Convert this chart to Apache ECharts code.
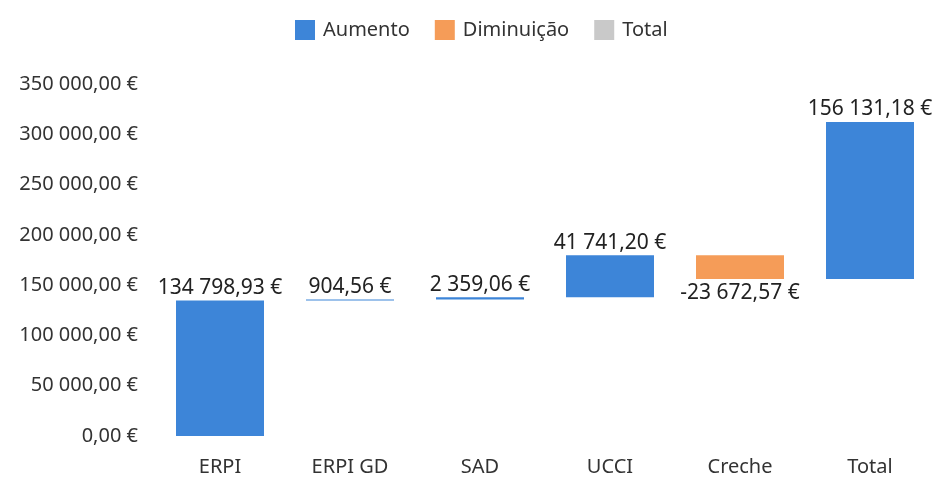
<!DOCTYPE html>
<html lang="pt">
<head>
    <meta charset="UTF-8">
    <title>Waterfall</title>
    <style>
        html, body { margin: 0; padding: 0; background: #fff; }
        #chart { width: 939px; height: 479px; }
    </style>
</head>
<body>
<div id="chart"></div>
<script src="https://cdn.jsdelivr.net/npm/echarts@6/dist/echarts.min.js"></script>
<script>
    var categories = ['ERPI', 'ERPI GD', 'SAD', 'UCCI', 'Creche', 'Total'];
    var changes = [134798.93, 904.56, 2359.06, 41741.20, -23672.57];
    var totalValue = 156131.18;
    var legendNames = ['Aumento', 'Diminuição', 'Total'];

    var euro = function (v) {
        var neg = v < 0;
        var parts = Math.abs(v).toFixed(2).split('.');
        var intPart = parts[0].replace(/\B(?=(\d{3})+(?!\d))/g, ' ');
        return (neg ? '-' : '') + intPart + ',' + parts[1] + ' €';
    };

    // build the stacked series: invisible base + up / down / total
    var base = [], up = [], down = [], tot = [];
    var running = 0;
    changes.forEach(function (c) {
        if (c >= 0) {
            base.push(running);
            up.push({value: c, raw: c});
            down.push('-');
            running += c;
        } else {
            running += c;
            base.push(running);
            up.push('-');
            down.push({value: -c, raw: c});
        }
        tot.push('-');
    });
    // total bar sits on top of the final running level, as in the source
    base.push(running);
    up.push('-');
    down.push('-');
    tot.push({value: totalValue, raw: totalValue});

    var labelFont = {
        fontFamily: 'Noto Sans',
        fontSize: 21,
        color: '#222'
    };

    var option = {
        animation: false,
        textStyle: {fontFamily: 'Noto Sans'},
        legend: {
            top: 15,
            left: 290,
            icon: 'rect',
            itemWidth: 20,
            itemHeight: 20,
            itemGap: 25,
            textStyle: {fontSize: 20, color: '#333', fontFamily: 'Noto Sans', padding: [0, 0, 0, 3]},
            data: [
                {name: 'Aumento', itemStyle: {color: '#3d85d8'}},
                {name: 'Diminuição', itemStyle: {color: '#f59c58'}},
                {name: 'Total', itemStyle: {color: '#c9c9c9'}}
            ]
        },
        grid: {
            left: 155,
            right: 4,
            top: 84,
            bottom: 43
        },
        xAxis: {
            type: 'category',
            data: categories,
            axisLine: {show: false},
            axisTick: {show: false},
            axisLabel: {
                fontSize: 20,
                color: '#333',
                margin: 21,
                fontFamily: 'Noto Sans'
            }
        },
        yAxis: {
            type: 'value',
            min: 0,
            max: 350000,
            interval: 50000,
            splitLine: {show: false},
            axisLine: {show: false},
            axisTick: {show: false},
            axisLabel: {
                fontSize: 20,
                color: '#333',
                margin: 17,
                fontFamily: 'Noto Sans',
                formatter: function (v) { return euro(v); }
            }
        },
        series: [
            {
                name: 'base',
                type: 'bar',
                stack: 'w',
                barWidth: 88,
                itemStyle: {color: 'transparent'},
                emphasis: {disabled: true},
                data: base
            },
            {
                name: legendNames[0],
                type: 'bar',
                stack: 'w',
                barWidth: 88,
                barMinHeight: 1,
                itemStyle: {color: '#3d85d8'},
                label: Object.assign({
                    show: true,
                    position: 'top',
                    distance: 2,
                    formatter: function (p) { return euro(p.data.raw); }
                }, labelFont),
                data: up
            },
            {
                name: legendNames[1],
                type: 'bar',
                stack: 'w',
                barWidth: 88,
                itemStyle: {color: '#f59c58'},
                label: Object.assign({
                    show: true,
                    position: 'bottom',
                    distance: 4,
                    formatter: function (p) { return euro(p.data.raw); }
                }, labelFont),
                data: down
            },
            {
                name: legendNames[2],
                type: 'bar',
                stack: 'w',
                barWidth: 88,
                itemStyle: {color: '#3d85d8'},
                label: Object.assign({
                    show: true,
                    position: 'top',
                    distance: 2,
                    formatter: function (p) { return euro(p.data.raw); }
                }, labelFont),
                data: tot
            }
        ]
    };

    var myChart = echarts.init(document.getElementById('chart'));
    myChart.setOption(option);
</script>
</body>
</html>
